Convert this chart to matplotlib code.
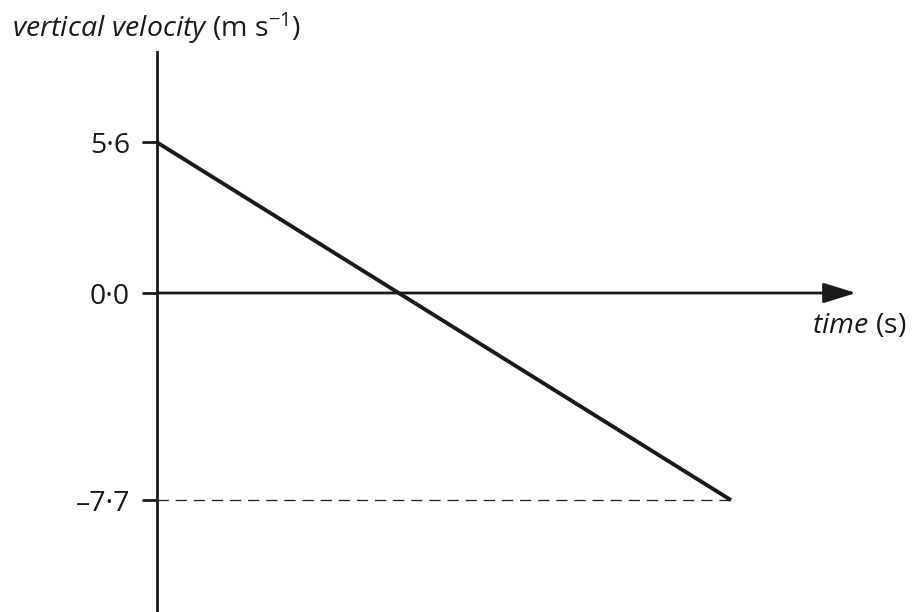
import matplotlib.pyplot as plt
from matplotlib.ticker import FuncFormatter

plt.rcParams['font.family'] = ['Open Sans', 'DejaVu Sans']
plt.rcParams['mathtext.fontset'] = 'custom'
plt.rcParams['mathtext.rm'] = 'Open Sans'
plt.rcParams['mathtext.it'] = 'Open Sans:italic'

# datos: velocidad vertical frente al tiempo
time = [0.0, 1.357]
velocity = [5.6, -7.7]
y_ticks = [5.6, 0.0, -7.7]

fig = plt.figure(figsize=(9.16, 6.12), dpi=100)
ax = fig.add_axes([0, 0, 1, 1])

# escala en pixeles
px_x = 423.0
px_y = 26.9
ax.set_xlim(-157 / px_x, (916 - 157) / px_x)
ax.set_ylim(-(612 - 293) / px_y, 293 / px_y)

ink = '#1a1a1a'
for s in ['top', 'right', 'bottom']:
    ax.spines[s].set_visible(False)
ax.spines['left'].set_position(('data', 0))
ax.spines['left'].set_linewidth(2.0)
ax.spines['left'].set_color(ink)
ax.spines['left'].set_bounds(-(612 - 293) / px_y, (293 - 52) / px_y)

ax.set_xticks([])
ax.set_yticks(y_ticks)
ax.yaxis.set_major_formatter(FuncFormatter(
    lambda v, p: f"{v:.1f}".replace('.', '·').replace('-', '–')))
ax.tick_params(axis='y', direction='out', length=10.5, width=2.0,
               pad=9, labelsize=20.5, colors=ink)

# eje x con flecha
x_tip = (856 - 157) / px_x
ax.annotate('', xy=(x_tip, 0), xytext=(0, 0),
            arrowprops=dict(arrowstyle='-|>,head_length=20,head_width=6.2',
                            mutation_scale=1, lw=2.0, color=ink,
                            shrinkA=0, shrinkB=0))

ax.plot(time, velocity, color=ink, lw=2.8, solid_capstyle='butt')
ax.hlines(velocity[-1], 0, time[-1], colors=ink, lw=0.9,
          linestyles=(0, (9, 5.5)))

fig.text(12 / 916, 1 - 37 / 612,
         r'$\mathit{vertical\ velocity}$ (m s$^{-1}$)',
         fontsize=20.5, color=ink, ha='left', va='baseline')
fig.text(812 / 916, 1 - 333 / 612, r'$\mathit{time}$ (s)',
         fontsize=20.5, color=ink, ha='left', va='baseline')

fig.savefig('out.png', dpi=100, facecolor='white')
